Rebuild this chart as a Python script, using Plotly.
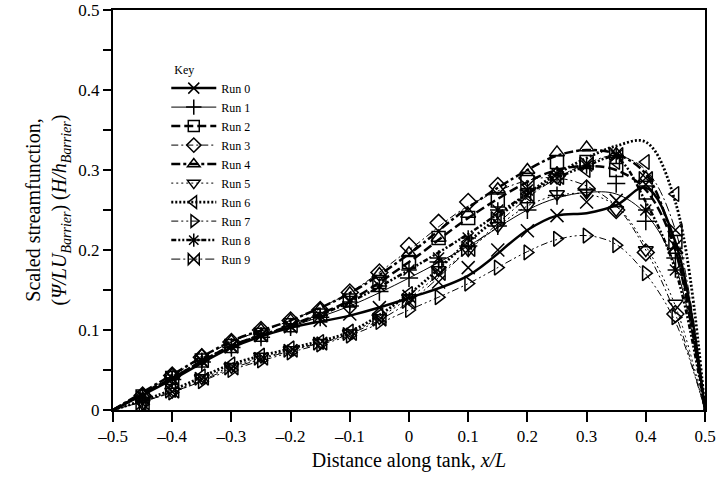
import plotly.graph_objects as go

# ---- data ----
RUN_NAMES = ["Run 0", "Run 1", "Run 2", "Run 3", "Run 4",
             "Run 5", "Run 6", "Run 7", "Run 8", "Run 9"]

# measured points (x = -0.45 ... 0.45 step 0.05)
X_PTS = [-0.45, -0.4, -0.35, -0.3, -0.25, -0.2, -0.15, -0.1, -0.05, 0.0,
         0.05, 0.1, 0.15, 0.2, 0.25, 0.3, 0.35, 0.4, 0.45]

run0_pts = [0.016, 0.039, 0.061, 0.079, 0.093, 0.104, 0.112, 0.120, 0.128, 0.142, 0.160, 0.178, 0.200, 0.224, 0.243, 0.260, 0.262, 0.282, 0.205]
run1_pts = [0.015, 0.038, 0.060, 0.078, 0.091, 0.104, 0.116, 0.130, 0.148, 0.165, 0.185, 0.205, 0.230, 0.250, 0.268, 0.275, 0.283, 0.236, 0.190]
run2_pts = [0.017, 0.040, 0.062, 0.080, 0.094, 0.106, 0.118, 0.137, 0.160, 0.185, 0.215, 0.240, 0.262, 0.285, 0.310, 0.310, 0.300, 0.272, 0.210]
run3_pts = [0.018, 0.043, 0.066, 0.085, 0.100, 0.112, 0.125, 0.147, 0.172, 0.205, 0.234, 0.260, 0.280, 0.290, 0.293, 0.277, 0.250, 0.197, 0.120]
run4_pts = [0.019, 0.044, 0.068, 0.086, 0.100, 0.112, 0.126, 0.146, 0.170, 0.196, 0.215, 0.245, 0.276, 0.300, 0.322, 0.328, 0.320, 0.290, 0.200]
run5_pts = [0.008, 0.023, 0.040, 0.054, 0.067, 0.075, 0.084, 0.096, 0.115, 0.140, 0.175, 0.200, 0.230, 0.255, 0.270, 0.272, 0.250, 0.200, 0.133]
run6_pts = [0.009, 0.025, 0.042, 0.057, 0.068, 0.077, 0.085, 0.098, 0.118, 0.145, 0.180, 0.210, 0.240, 0.270, 0.290, 0.300, 0.310, 0.310, 0.270]
run7_pts = [0.007, 0.022, 0.036, 0.050, 0.062, 0.072, 0.082, 0.093, 0.110, 0.125, 0.141, 0.158, 0.178, 0.197, 0.214, 0.218, 0.206, 0.171, 0.116]
run8_pts = [0.016, 0.040, 0.062, 0.080, 0.094, 0.105, 0.118, 0.135, 0.155, 0.175, 0.190, 0.215, 0.250, 0.275, 0.295, 0.305, 0.318, 0.250, 0.175]
run9_pts = [0.008, 0.023, 0.039, 0.052, 0.064, 0.074, 0.083, 0.095, 0.113, 0.135, 0.170, 0.200, 0.240, 0.268, 0.290, 0.308, 0.320, 0.290, 0.225]

# fitted curves
X_FIT = [-0.5, -0.4, -0.3, -0.2, -0.1, 0.0, 0.1, 0.2, 0.25, 0.3, 0.35, 0.4, 0.45, 0.5]

run0_fit = [0, 0.038, 0.078, 0.103, 0.118, 0.140, 0.168, 0.225, 0.243, 0.246, 0.256, 0.278, 0.210, 0]
run1_fit = [0, 0.038, 0.078, 0.104, 0.130, 0.165, 0.205, 0.250, 0.265, 0.272, 0.270, 0.245, 0.180, 0]
run2_fit = [0, 0.040, 0.080, 0.106, 0.137, 0.185, 0.240, 0.285, 0.300, 0.305, 0.300, 0.275, 0.200, 0]
run3_fit = [0, 0.043, 0.085, 0.112, 0.147, 0.200, 0.255, 0.287, 0.290, 0.280, 0.255, 0.200, 0.120, 0]
run4_fit = [0, 0.044, 0.086, 0.112, 0.146, 0.195, 0.253, 0.300, 0.318, 0.325, 0.320, 0.295, 0.200, 0]
run5_fit = [0, 0.023, 0.054, 0.075, 0.096, 0.140, 0.200, 0.255, 0.268, 0.270, 0.255, 0.205, 0.130, 0]
run6_fit = [0, 0.025, 0.057, 0.077, 0.098, 0.145, 0.210, 0.270, 0.295, 0.315, 0.330, 0.335, 0.260, 0]
run7_fit = [0, 0.022, 0.050, 0.072, 0.093, 0.125, 0.158, 0.198, 0.213, 0.218, 0.207, 0.170, 0.110, 0]
run8_fit = [0, 0.040, 0.080, 0.105, 0.135, 0.175, 0.220, 0.270, 0.290, 0.305, 0.315, 0.260, 0.175, 0]
run9_fit = [0, 0.022, 0.052, 0.074, 0.095, 0.135, 0.200, 0.265, 0.290, 0.308, 0.318, 0.300, 0.225, 0]

X_TICKS = [-0.5, -0.4, -0.3, -0.2, -0.1, 0.0, 0.1, 0.2, 0.3, 0.4, 0.5]
X_TICK_LABELS = ["–0.5", "–0.4", "–0.3", "–0.2", "–0.1", "0", "0.1", "0.2", "0.3", "0.4", "0.5"]
Y_TICKS = [0, 0.1, 0.2, 0.3, 0.4, 0.5]
Y_TICK_LABELS = ["0", "0.1", "0.2", "0.3", "0.4", "0.5"]
Y_MINOR = [0.05, 0.15, 0.25, 0.35, 0.45]

PTS = [run0_pts, run1_pts, run2_pts, run3_pts, run4_pts,
       run5_pts, run6_pts, run7_pts, run8_pts, run9_pts]
FITS = [run0_fit, run1_fit, run2_fit, run3_fit, run4_fit,
        run5_fit, run6_fit, run7_fit, run8_fit, run9_fit]

# ---- styles ----
STYLES = [
    dict(width=2.5, dash="solid", symbol="x-thin-open"),
    dict(width=1.0, dash="solid", symbol="cross-thin-open"),
    dict(width=2.5, dash="9px,4px", symbol="square-open"),
    dict(width=1.0, dash="7px,3px,2px,3px", symbol="diamond-open"),
    dict(width=2.5, dash="9px,3px,3px,3px", symbol="triangle-up-open"),
    dict(width=1.0, dash="2px,3px", symbol="triangle-down-open"),
    dict(width=2.8, dash="2px,2px", symbol="triangle-left-open"),
    dict(width=1.0, dash="7px,3px,2px,3px,2px,3px", symbol="triangle-right-open"),
    dict(width=2.5, dash="5px,2px,2px,2px,2px,2px", symbol="asterisk-open"),
    dict(width=1.0, dash="9px,3px,2px,3px", symbol="bowtie-open"),
]
MSIZE = 13

fig = go.Figure()
for name, pts, fit, st in zip(RUN_NAMES, PTS, FITS, STYLES):
    fig.add_trace(go.Scatter(
        x=X_FIT, y=fit, mode="lines", line_shape="spline",
        line=dict(color="black", width=st["width"], dash=st["dash"], smoothing=1.0),
        showlegend=False, hoverinfo="skip"))
    fig.add_trace(go.Scatter(
        x=X_PTS, y=pts, mode="markers",
        marker=dict(symbol=st["symbol"], size=MSIZE, color="black",
                    line=dict(color="black", width=1.5)),
        showlegend=False))
    # legend entry (key)
    fig.add_trace(go.Scatter(
        x=[None], y=[None], mode="lines+markers", name=name,
        line=dict(color="black", width=st["width"], dash=st["dash"]),
        marker=dict(symbol=st["symbol"], size=11, color="black",
                    line=dict(color="black", width=1.5))))

FONT = "Liberation Serif"
fig.update_layout(
    width=722, height=491,
    margin=dict(l=113, r=17, t=10, b=81),
    paper_bgcolor="white", plot_bgcolor="white",
    font=dict(family=FONT, color="black", size=17),
    showlegend=True,
    legend=dict(x=0.09, y=0.88, xanchor="left", yanchor="top",
                bgcolor="rgba(0,0,0,0)", borderwidth=0,
                font=dict(family=FONT, size=12),
                title=dict(text="  Key", side="top", font=dict(family=FONT, size=12)),
                tracegroupgap=0, itemwidth=45),
    xaxis=dict(range=[-0.5, 0.5], tickvals=X_TICKS, ticktext=X_TICK_LABELS,
               ticks="outside", ticklen=10, tickwidth=2, tickcolor="black",
               showline=True, linewidth=2, linecolor="black", mirror=True,
               showgrid=False, zeroline=False, automargin=False,
               tickfont=dict(family=FONT, size=17),
               title=dict(text="Distance along tank, <i>x/L</i>",
                          font=dict(family=FONT, size=20), standoff=8)),
    yaxis=dict(range=[0, 0.5], tickvals=Y_TICKS, ticktext=Y_TICK_LABELS,
               ticks="outside", ticklen=8, tickwidth=2, tickcolor="black",
               minor=dict(tickvals=Y_MINOR, ticks="outside", ticklen=8, tickwidth=2, tickcolor="black"),
               showline=True, linewidth=2, linecolor="black", mirror=True,
               showgrid=False, zeroline=False, automargin=False,
               tickfont=dict(family=FONT, size=17),
               title=dict(text="Scaled streamfunction,<br>(<i>Ψ/LU</i><sub><i>Barrier</i></sub>) (<i>H/h</i><sub><i>Barrier</i></sub>)",
                          font=dict(family=FONT, size=20), standoff=6)),
)

fig.write_html("out.html",
               config={"displayModeBar": False},
               post_script="document.body.style.margin='0';document.body.style.overflow='hidden';")
